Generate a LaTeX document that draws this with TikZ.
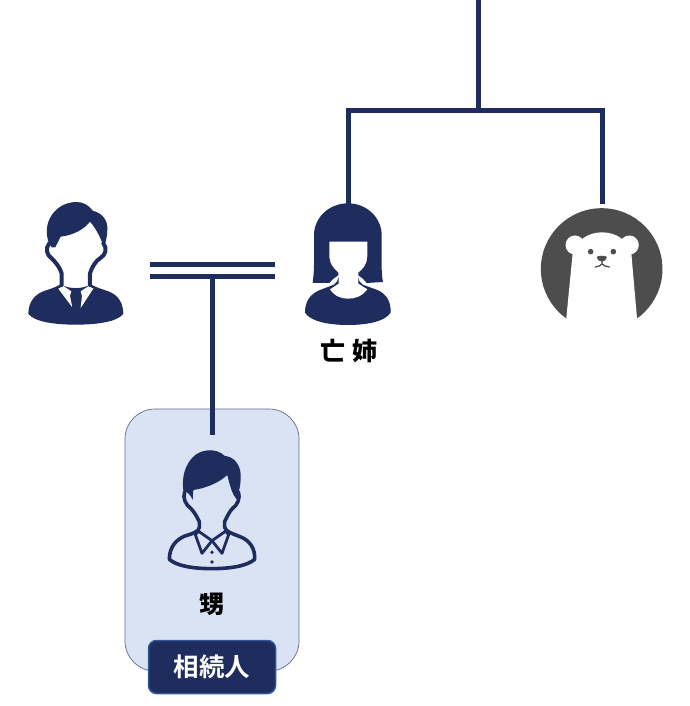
\documentclass[tikz,border=0pt]{standalone}
\usepackage{fontspec}
\newfontfamily\cjk{Noto Sans CJK JP Black}
\newfontfamily\cjkb{Noto Sans CJK JP Bold}
\definecolor{navy}{HTML}{1E2C5E}
\definecolor{panel}{HTML}{DAE3F3}
\definecolor{bear}{HTML}{4D4D4D}
\definecolor{tagedge}{HTML}{2F5597}
\tikzset{
  link/.style={draw=navy,line width=5pt},
  namelabel/.style={font=\cjk\fontsize{25}{28}\selectfont,text=black,inner sep=0pt},
  heirbox/.style={draw=navy!70,line width=0.7pt,fill=panel,rounded corners=30pt},
  heirtag/.style={draw=tagedge,line width=1.5pt,fill=navy,rounded corners=8pt,text=white,minimum width=127pt,minimum height=53pt,inner sep=0pt,font=\cjkb\fontsize{25.5}{28}\selectfont},
  inkline/.style={draw=navy,line cap=round,line join=round}
}
\begin{document}
\begin{tikzpicture}[x=1pt,y=-1pt]
\useasboundingbox (0,0) rectangle (689,706);
\fill[white] (0,0) rectangle (689,706);
% heir panel
\draw[heirbox] (125,409) rectangle (299,671);
% connector points
\coordinate (top) at (478.5,0);
\coordinate (fork) at (478.5,111);
\coordinate (forkL) at (348.5,111);
\coordinate (forkR) at (602,111);
\coordinate (sister) at (348.5,204);
\coordinate (selfbear) at (602,204);
\coordinate (m1a) at (150,264.5);
\coordinate (m1b) at (275,264.5);
\coordinate (m2a) at (150,276.5);
\coordinate (m2b) at (275,276.5);
\coordinate (drop) at (212,276.5);
\coordinate (nephew) at (212,435);
\draw[link] (top) -- (fork);
\draw[link,line join=miter] (sister) -- (forkL) -- (forkR) -- (selfbear);
\draw[link] (m1a) -- (m1b);
\draw[link] (m2a) -- (m2b);
\draw[link] (drop) -- (nephew);
% man in suit
\begin{scope}[shift={(10,190)},x=0.3333pt,y=-0.3333pt]
\fill[navy] (55,372) .. controls (55,335) and (75,312) .. (105,302) .. controls (125,296) and (140,290) .. (152,283)
  .. controls (175,298) and (220,298) .. (242,283) .. controls (258,292) and (275,297) .. (295,304)
  .. controls (325,315) and (340,340) .. (340,372) .. controls (320,396) and (260,404) .. (197,404)
  .. controls (135,404) and (75,396) .. (55,372) -- cycle;
\fill[white] (145,296) -- (160,288) -- (184,304) -- (180,318) -- (187,352) -- cycle;
\fill[white] (250,296) -- (236,288) -- (212,304) -- (216,318) -- (212,354) -- cycle;
\fill[navy] (197,300) -- (186,313) -- (192,325) -- (186,354) -- (210,354) -- (204,325) -- (211,313) -- cycle;
\draw[inkline,line width=4pt] (155,285) -- (155,250) .. controls (150,232) and (135,215) .. (125,205) .. controls (110,195) and (105,175) .. (118,160);
\draw[inkline,line width=4pt] (240,285) -- (240,250) .. controls (245,232) and (258,212) .. (270,205) .. controls (288,195) and (292,175) .. (280,160);
\fill[navy] (125,172) .. controls (108,150) and (106,115) .. (118,88) .. controls (133,55) and (165,36) .. (200,36)
  .. controls (222,36) and (238,48) .. (248,62) .. controls (277,70) and (294,90) .. (292,120)
  .. controls (292,140) and (287,155) .. (282,172) .. controls (274,150) and (262,120) .. (240,95)
  .. controls (220,120) and (190,135) .. (152,140) -- (136,172) -- cycle;
\end{scope}
% sister
\begin{scope}[shift={(290,190)},x=0.3333pt,y=-0.3333pt]
\fill[navy] (45,368) .. controls (45,335) and (60,312) .. (90,300) -- (132,284) .. controls (140,276) and (145,272) .. (145,262)
  -- (205,262) .. controls (205,272) and (210,278) .. (218,284) -- (262,300) .. controls (290,312) and (303,335) .. (302,368)
  .. controls (285,395) and (230,405) .. (174,405) .. controls (118,405) and (62,395) .. (45,368) -- cycle;
\fill[white] (120,298) -- (146,281) -- (146,250) -- (205,250) -- (205,281) -- (232,298) .. controls (215,320) and (195,326) .. (175,326) .. controls (155,326) and (135,320) .. (120,298) -- cycle;
\fill[navy] (174,40) .. controls (115,40) and (72,85) .. (72,135) -- (72,225) .. controls (72,245) and (70,262) .. (68,279)
  -- (118,279) .. controls (125,270) and (135,262) .. (145,256) -- (145,248) .. controls (130,235) and (118,220) .. (118,200)
  -- (118,155) -- (232,155) -- (232,200) .. controls (232,220) and (220,238) .. (205,248) -- (205,256) .. controls (215,262) and (222,268) .. (230,279)
  -- (279,276) .. controls (276,262) and (275,245) .. (275,225) -- (275,135) .. controls (275,85) and (232,40) .. (174,40) -- cycle;
\end{scope}
% bear
\begin{scope}[shift={(530,195)},x=0.3333pt,y=-0.3333pt]
\fill[bear] (215,222) circle[radius=60.8pt];
\fill[white] (128,175) -- (110,358) -- (105,420) -- (325,420) -- (320,358) -- (304,175) -- cycle;
\fill[white] (135,150) circle[radius=9.5pt];
\fill[white] (298,150) circle[radius=9.5pt];
\fill[white] (128,185) .. controls (135,135) and (175,112) .. (216,112) .. controls (258,112) and (298,135) .. (304,185) -- cycle;
\fill[bear] (182,170) circle[radius=2.8pt];
\fill[bear] (250,170) circle[radius=2.8pt];
\fill[bear] (200,186) .. controls (205,181) and (225,181) .. (231,186) .. controls (231,194) and (222,200) .. (216,200) .. controls (209,200) and (200,194) .. (200,186) -- cycle;
\draw[bear,line width=1.3pt,line cap=round] (216,198) -- (216,207) (196,216) .. controls (205,215) and (212,212) .. (216,207) .. controls (220,212) and (228,215) .. (238,216);
\end{scope}
% nephew
\begin{scope}[shift={(150,440)},x=0.3333pt,y=-0.3333pt]
\draw[inkline,line width=3.6pt] (58,358) .. controls (58,320) and (80,298) .. (105,288) .. controls (125,282) and (148,275) .. (148,262) -- (148,245) .. controls (140,228) and (130,212) .. (122,205) .. controls (108,195) and (97,175) .. (104,155);
\draw[inkline,line width=3.6pt] (224,262) -- (224,245) .. controls (232,228) and (240,212) .. (248,205) .. controls (262,195) and (272,175) .. (265,155);
\draw[inkline,line width=3.6pt] (224,262) .. controls (226,275) and (250,282) .. (270,290) .. controls (298,300) and (316,325) .. (314,358);
\draw[inkline,line width=3.6pt] (58,358) .. controls (80,378) and (130,386) .. (186,386) .. controls (240,386) and (292,378) .. (314,358);
\draw[inkline,line width=2.8pt] (146,274) -- (136,284) -- (156,340) -- (186,302) -- (216,340) -- (236,284) -- (226,274);
\draw[inkline,line width=2.8pt] (146,274) -- (186,302) -- (226,274);
\fill[navy] (186,337) circle[radius=1.9pt];
\fill[navy] (186,366) circle[radius=1.9pt];
\fill[navy] (100,152) .. controls (95,110) and (105,75) .. (130,50) .. controls (150,30) and (195,20) .. (225,48)
  .. controls (255,50) and (275,80) .. (272,115) .. controls (272,135) and (268,150) .. (260,178)
  .. controls (248,165) and (240,140) .. (232,105) .. controls (205,130) and (165,145) .. (130,150) -- (128,180) .. controls (122,165) and (112,155) .. (100,152) -- cycle;
\end{scope}
% labels
\node[namelabel] (sistername) at (349,351) {亡\hspace{7pt}姉};
\node[namelabel] (nephewname) at (212,604) {甥};
\node[heirtag] (heir) at (212,667) {相続人};
\end{tikzpicture}
\end{document}
